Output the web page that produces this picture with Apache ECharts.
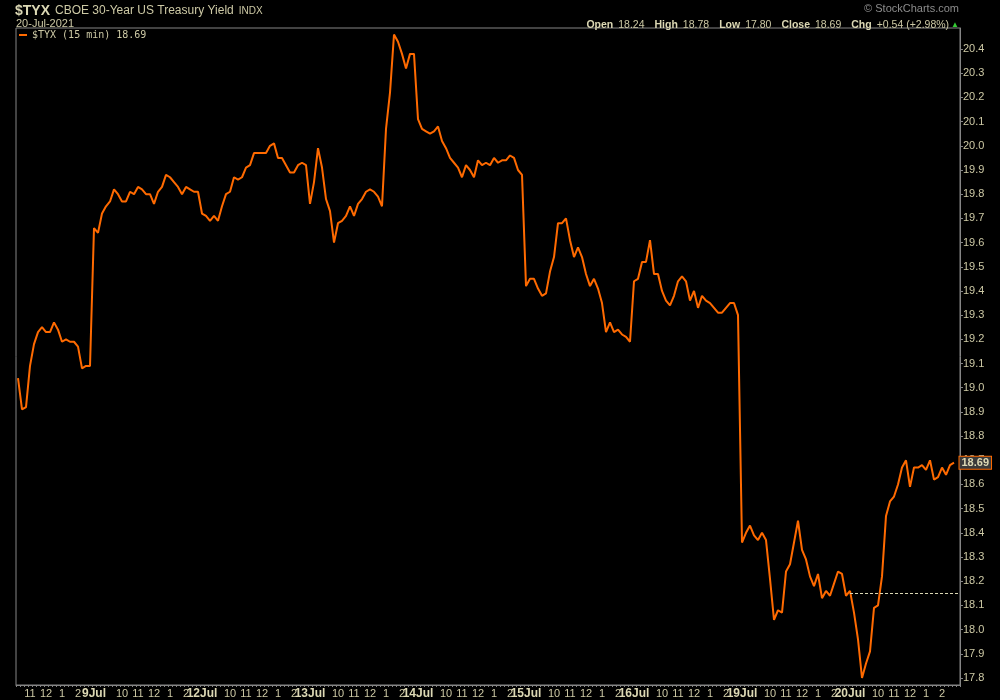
<!DOCTYPE html>
<html>
<head>
<meta charset="utf-8">
<script src="https://cdn.jsdelivr.net/npm/echarts@6/dist/echarts.min.js"></script>
<style>html,body{margin:0;padding:0;background:#000}#c{width:1000px;height:700px}</style>
</head>
<body>
<div id="c"></div>
<script>
// ---- data (15-minute closes of $TYX) ----
const days = ['8Jul', '9Jul', '12Jul', '13Jul', '14Jul', '15Jul', '16Jul', '19Jul', '20Jul'];
const sessionTimes = ['8:15','8:30','8:45','9:00','9:15','9:30','9:45','10:00','10:15','10:30','10:45',
  '11:00','11:15','11:30','11:45','12:00','12:15','12:30','12:45','13:00','13:15','13:30','13:45',
  '14:00','14:15','14:30','14:45'];
const firstDayStart = '10:15';   // 8 Jul is only partly visible
const trailingSlots = ['15:00']; // empty room after the last bar

const jul08 = [19.04, 18.91, 18.92, 19.09, 19.18, 19.23, 19.25, 19.23, 19.23, 19.27, 19.24, 19.19, 19.20, 19.19, 19.19, 19.17, 19.08, 19.09, 19.09];
const jul09 = [19.66, 19.64, 19.72, 19.75, 19.77, 19.82, 19.80, 19.77, 19.77, 19.81, 19.80, 19.83, 19.82, 19.80, 19.80, 19.76, 19.81, 19.83, 19.88, 19.87, 19.85, 19.83, 19.80, 19.83, 19.82, 19.81, 19.81];
const jul12 = [19.72, 19.71, 19.69, 19.71, 19.69, 19.75, 19.80, 19.81, 19.87, 19.86, 19.87, 19.91, 19.92, 19.97, 19.97, 19.97, 19.97, 20.00, 20.01, 19.95, 19.95, 19.92, 19.89, 19.89, 19.92, 19.93, 19.92];
const jul13 = [19.76, 19.85, 19.99, 19.91, 19.78, 19.73, 19.60, 19.68, 19.69, 19.71, 19.75, 19.71, 19.76, 19.78, 19.81, 19.82, 19.81, 19.79, 19.75, 20.07, 20.22, 20.46, 20.43, 20.38, 20.32, 20.38, 20.38];
const jul14 = [20.11, 20.07, 20.06, 20.05, 20.06, 20.08, 20.02, 19.99, 19.95, 19.93, 19.91, 19.87, 19.92, 19.90, 19.87, 19.94, 19.92, 19.93, 19.92, 19.95, 19.93, 19.94, 19.94, 19.96, 19.95, 19.90, 19.88];
const jul15 = [19.42, 19.45, 19.45, 19.41, 19.38, 19.39, 19.48, 19.54, 19.68, 19.68, 19.70, 19.61, 19.54, 19.58, 19.54, 19.47, 19.42, 19.45, 19.41, 19.35, 19.23, 19.27, 19.23, 19.24, 19.22, 19.21, 19.19];
const jul16 = [19.44, 19.45, 19.52, 19.52, 19.61, 19.47, 19.47, 19.40, 19.36, 19.34, 19.38, 19.44, 19.46, 19.44, 19.36, 19.40, 19.33, 19.38, 19.36, 19.35, 19.33, 19.31, 19.31, 19.33, 19.35, 19.35, 19.30];
const jul19 = [18.36, 18.40, 18.43, 18.39, 18.37, 18.40, 18.37, 18.21, 18.04, 18.08, 18.07, 18.24, 18.27, 18.36, 18.45, 18.33, 18.29, 18.22, 18.18, 18.23, 18.13, 18.16, 18.14, 18.19, 18.24, 18.23, 18.14];
const jul20 = [18.16, 18.07, 17.96, 17.80, 17.86, 17.91, 18.09, 18.10, 18.22, 18.47, 18.53, 18.55, 18.60, 18.67, 18.70, 18.59, 18.67, 18.67, 18.68, 18.66, 18.70, 18.62, 18.63, 18.67, 18.64, 18.68, 18.69];

const yTicks = [17.8, 17.9, 18.0, 18.1, 18.2, 18.3, 18.4, 18.5, 18.6, 18.7, 18.8, 18.9, 19.0, 19.1, 19.2, 19.3, 19.4, 19.5, 19.6, 19.7, 19.8, 19.9, 20.0, 20.1, 20.2, 20.3, 20.4];
const prevClose = 18.15;
const quote = { open: 18.24, high: 18.78, low: 17.80, close: 18.69, chg: 0.54, chgPct: 2.98 };

// ---- build categories / series ----
const cats = [];
days.forEach((d, di) => {
  const startIdx = di === 0 ? sessionTimes.indexOf(firstDayStart) : 0;
  for (let k = startIdx; k < sessionTimes.length; k++) cats.push(d + ' ' + sessionTimes[k]);
});
trailingSlots.forEach(t => cats.push(days[days.length - 1] + ' ' + t));
const values = [].concat(jul08, jul09, jul12, jul13, jul14, jul15, jul16, jul19, jul20);
const lastCat = cats[values.length - 1];
const prevCloseStart = days[days.length - 1] + ' ' + sessionTimes[0];

function labelShown(idx, v) {
  const t = v.split(' ')[1];
  const [h, m] = t.split(':').map(Number);
  if (t === sessionTimes[0]) return true;
  return m === 0 && h >= 10 && h <= 14;
}
function labelText(v) {
  const [d, t] = v.split(' ');
  if (t === sessionTimes[0]) return '{d|' + d + '}';
  const h = Number(t.split(':')[0]);
  return String(h > 12 ? h - 12 : h);
}

const beige = '#cdc9a5';
const bright = '#dcd8b4';
const grey = '#858585';
const orange = '#ff6a00';

const chart = echarts.init(document.getElementById('c'));
chart.setOption({
  backgroundColor: '#000',
  animation: false,
  textStyle: { fontFamily: '"Liberation Sans", Arial, sans-serif' },
  title: [
    { left: 15, top: 2, padding: 0,
      text: '{b|$TYX} {n|CBOE 30-Year US Treasury Yield} {s|INDX}',
      textStyle: { fontWeight: 'normal', rich: {
        b: { fontSize: 14, fontWeight: 'bold', color: bright },
        n: { fontSize: 12, fontWeight: 'normal', color: beige },
        s: { fontSize: 10, fontWeight: 'normal', color: beige } } } },
    { left: 16, top: 18, padding: 0, text: '20-Jul-2021',
      textStyle: { fontSize: 11, fontWeight: 'normal', color: beige } },
    { right: 41, top: 3, padding: 0, text: '\u00a9 StockCharts.com',
      textStyle: { fontSize: 11, fontWeight: 'normal', color: '#8c8c8c' } },
    { right: 41, top: 16, padding: 0,
      text: '{l|Open} {v|' + quote.open.toFixed(2) + '}  {l|High} {v|' + quote.high.toFixed(2) +
            '}  {l|Low} {v|' + quote.low.toFixed(2) + '}  {l|Close} {v|' + quote.close.toFixed(2) +
            '}  {l|Chg} {v|+' + quote.chg.toFixed(2) + ' (+' + quote.chgPct.toFixed(2) + '%)}{g|\u25B2}',
      textStyle: { fontWeight: 'normal', rich: {
        l: { fontSize: 10.5, fontWeight: 'bold', color: bright },
        v: { fontSize: 10.5, fontWeight: 'normal', color: beige },
        g: { fontSize: 8, color: '#33cc33', padding: [0, 0, 0, 2] } } } }
  ],
  legend: {
    left: 19, top: 30, padding: 0, icon: 'rect', itemWidth: 8, itemHeight: 2,
    data: ['$TYX'],
    formatter: () => '$TYX (15 min) ' + quote.close.toFixed(2),
    textStyle: { color: beige, fontSize: 10, fontFamily: '"DejaVu Sans Mono", monospace' }
  },
  grid: { left: 16, right: 40, top: 28, bottom: 15, show: true, borderColor: grey, borderWidth: 1 },
  xAxis: {
    type: 'category', data: cats, boundaryGap: true,
    axisLine: { lineStyle: { color: grey } },
    axisTick: { show: true, interval: 0, length: 2, lineStyle: { color: grey } },
    splitLine: { show: false },
    axisLabel: {
      interval: labelShown, formatter: labelText, color: beige, fontSize: 11, margin: 3,
      rich: { d: { fontSize: 12, fontWeight: 'bold', color: bright } }
    }
  },
  yAxis: {
    type: 'value', position: 'right', min: 17.771, max: 20.487, scale: true,
    splitLine: { show: false },
    axisLine: { show: true, lineStyle: { color: grey } },
    axisTick: { show: true, customValues: yTicks, length: 3, lineStyle: { color: grey } },
    axisLabel: { customValues: yTicks, formatter: v => v.toFixed(1), color: beige, fontSize: 11, margin: 3 }
  },
  series: [{
    name: '$TYX', type: 'line', data: values, showSymbol: false, symbol: 'none',
    lineStyle: { color: orange, width: 2 }, itemStyle: { color: orange },
    markLine: {
      silent: true, symbol: 'none', label: { show: false },
      lineStyle: { color: bright, type: [3, 2], width: 1 },
      data: [[{ coord: [prevCloseStart, prevClose] }, { coord: [cats[cats.length - 1], prevClose] }]]
    },
    markPoint: {
      silent: true, symbol: 'rect', symbolSize: [1, 1], itemStyle: { color: 'rgba(0,0,0,0)' },
      label: {
        show: true, position: 'right', distance: 5, formatter: quote.close.toFixed(2),
        color: bright, fontWeight: 'bold', fontSize: 11, backgroundColor: '#3a3a3a',
        borderColor: orange, borderWidth: 1, padding: [1, 2, 0, 2]
      },
      data: [{ coord: [lastCat, quote.close] }]
    }
  }]
});
</script>
</body>
</html>
